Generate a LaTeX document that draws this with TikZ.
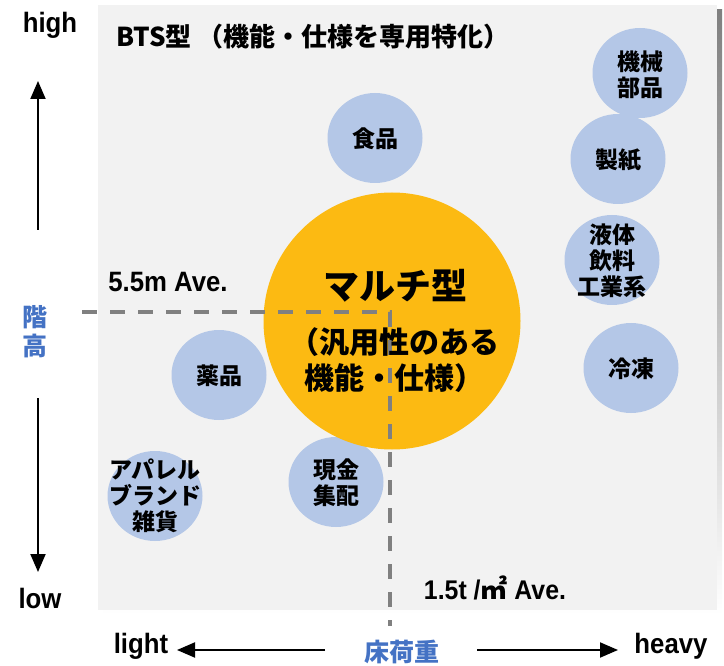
\documentclass[tikz,border=0pt]{standalone}
\usepackage{fontspec}
\setmainfont{Noto Sans CJK JP}
\newfontfamily\jp{Noto Sans CJK JP}
\newfontfamily\cond{Liberation Sans}[FakeStretch=0.92]
\usetikzlibrary{arrows.meta,shapes.geometric}
\definecolor{bgray}{RGB}{242,242,242}
\definecolor{shade}{RGB}{166,166,166}
\definecolor{cblue}{RGB}{180,199,231}
\definecolor{corange}{RGB}{252,186,18}
\definecolor{tblue}{RGB}{68,114,196}
\definecolor{dgray}{RGB}{128,128,128}
\begin{document}
\begin{tikzpicture}[x=1pt,y=-1pt,
  bub/.style={ellipse,fill=cblue,minimum width=95pt,minimum height=90pt,inner sep=0pt},
  btxt/.style={align=center,inner sep=0pt,font=\jp\bfseries\fontsize{23}{26}\selectfont},
  lat/.style={inner sep=0pt,font=\cond\bfseries\fontsize{28}{30}\selectfont},
  axj/.style={inner sep=0pt,text=tblue,font=\jp\bfseries\fontsize{25}{28}\selectfont},
  guide/.style={dgray,line width=3.2pt,dash pattern=on 15pt off 13pt},
  axarr/.style={line width=2pt,-{Triangle[length=18pt,width=15pt]}}]
\useasboundingbox (0,0) rectangle (724,666);
% panel
\fill[shade] (103,10) rectangle (722,615);
\fill[bgray] (98,5) rectangle (717,610);
% title
\node[anchor=west,inner sep=0pt,font=\jp\bfseries\fontsize{26}{30}\selectfont] (title) at (116,37) {BTS型 （機能・仕様を専用特化）};
% bubbles
\node[bub] (kikai) at (640,73) {};
\node[btxt] (kikait) at (640,75) {機械\\部品};
\node[bub] (seishi) at (618,159) {};
\node[btxt] (seishit) at (618,160) {製紙};
\node[bub] (ekitai) at (612,260) {};
\node[btxt] (ekitait) at (612,261) {液体\\飲料\\工業系};
\node[bub] (reito) at (631,368) {};
\node[btxt] (reitot) at (631,369) {冷凍};
\node[bub] (shoku) at (375,138) {};
\node[btxt] (shokut) at (375,139) {食品};
\node[bub] (yaku) at (219,375) {};
\node[btxt] (yakut) at (219,376) {薬品};
\node[bub] (apa) at (155,496) {};
\node[btxt] (apat) at (155,496) {アパレル\\ブランド\\雑貨};
\node[bub] (genkin) at (336,482) {};
\node[btxt] (genkint) at (336,483) {現金\\集配};
% multi circle
\node[circle,fill=corange,minimum size=257pt,inner sep=0pt] (multi) at (392,321) {};
% guide lines
\coordinate (hstart) at (82,312);
\coordinate (corner) at (390,312);
\coordinate (vend) at (390,626);
\draw[guide] (hstart) -- (corner) -- (vend);
% multi text
\node[inner sep=0pt,font=\jp\bfseries\fontsize{36}{40}\selectfont] (multit) at (395,286) {マルチ型};
\node[inner sep=0pt,font=\jp\bfseries\fontsize{30}{34}\selectfont] (multis) at (394,342) {（汎用性のある};
\node[inner sep=0pt,font=\jp\bfseries\fontsize{30}{34}\selectfont] (multiu) at (394,378) {機能・仕様）};
% guide labels
\node[lat] (hval) at (168,282) {5.5m Ave.};
\node[inner sep=0pt] (wval) at (495,588) {\cond\bfseries\fontsize{27}{30}\selectfont 1.5t /{\jp\bfseries ㎡} Ave.};
% axes
\node[lat] (high) at (50,25) {high};
\node[lat] (low) at (40,598) {low};
\node[lat] (light) at (141,646) {light};
\node[lat] (heavy) at (671,646) {heavy};
\node[axj,align=center,font=\jp\bfseries\fontsize{25}{29}\selectfont] (kaidaka) at (35,332) {階\\高};
\node[axj] (yuka) at (402,652) {床荷重};
\coordinate (upS) at (38,230);
\coordinate (upE) at (38,81);
\coordinate (dnS) at (38,398);
\coordinate (dnE) at (38,572);
\coordinate (ltS) at (325,650);
\coordinate (ltE) at (177,650);
\coordinate (rtS) at (477,650);
\coordinate (rtE) at (618,650);
\draw[axarr] (upS) -- (upE);
\draw[axarr] (dnS) -- (dnE);
\draw[axarr] (ltS) -- (ltE);
\draw[axarr] (rtS) -- (rtE);
\end{tikzpicture}
\end{document}
